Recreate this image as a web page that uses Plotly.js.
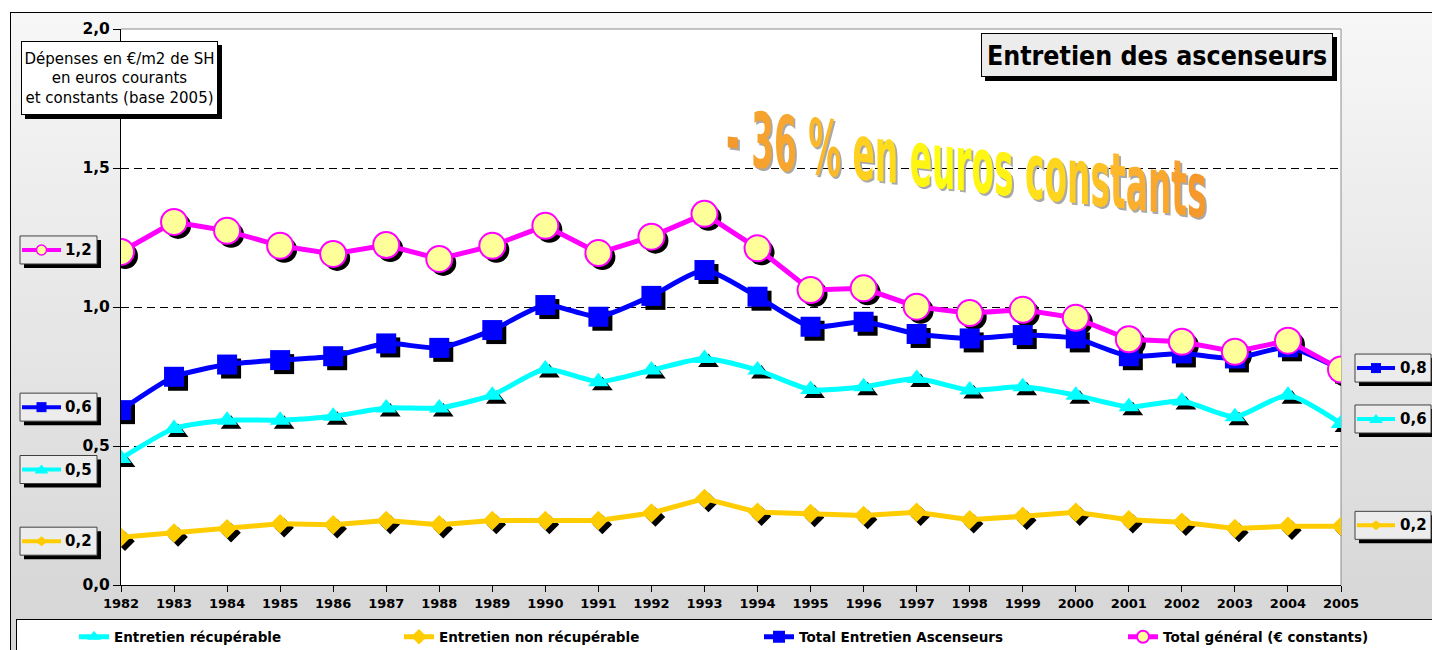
<!DOCTYPE html>
<html><head><meta charset="utf-8">
<script src="https://cdn.plot.ly/plotly-3.0.1.min.js"></script>
<style>
html,body{margin:0;padding:0;background:#fff;width:1432px;height:650px;overflow:hidden}
#frame{position:absolute;left:10px;top:12px;width:1440px;height:660px;border:1px solid #000;box-sizing:border-box;background:linear-gradient(to bottom,#f7f7f7 0%,#d6d6d6 94%)}
#legbox{position:absolute;left:16px;top:619px;width:1440px;height:60px;border:1px solid #000;background:#fff;box-sizing:border-box}
#chart{position:absolute;left:0;top:0;width:1432px;height:650px}
</style></head><body>
<div id="frame"></div><div id="legbox"></div><div id="chart"></div>
<script>
// ---- data ----
const years = ['1982','1983','1984','1985','1986','1987','1988','1989','1990','1991','1992','1993',
               '1994','1995','1996','1997','1998','1999','2000','2001','2002','2003','2004','2005'];
const recup    = [0.455,0.563,0.593,0.593,0.607,0.637,0.637,0.683,0.777,0.731,0.773,0.815,
                  0.773,0.703,0.713,0.743,0.701,0.713,0.683,0.641,0.662,0.605,0.683,0.581];
const nonRecup = [0.172,0.187,0.202,0.220,0.217,0.232,0.217,0.232,0.232,0.232,0.259,0.311,
                  0.262,0.257,0.250,0.262,0.235,0.247,0.262,0.235,0.226,0.203,0.211,0.211];
const totalAsc = [0.629,0.749,0.793,0.809,0.823,0.869,0.853,0.917,1.007,0.965,1.040,1.133,
                  1.037,0.929,0.947,0.903,0.887,0.899,0.887,0.823,0.833,0.815,0.855,0.775];
const totalGen = [1.198,1.306,1.274,1.220,1.191,1.223,1.173,1.220,1.292,1.194,1.253,1.335,
                  1.211,1.061,1.067,1.001,0.978,0.990,0.961,0.884,0.875,0.839,0.879,0.775];
const seriesNames = ['Entretien récupérable','Entretien non récupérable','Total Entretien Ascenseurs','Total général (€ constants)'];
const yTicks = [0, 0.5, 1, 1.5, 2];
const chartTitle = 'Entretien des ascenseurs';
const yTitleLines = ['Dépenses en €/m2 de SH','en euros courants','et constants (base 2005)'];
const callout = '- 36 % en euros constants';

// ---- geometry ----
const W = 1432, H = 650, ML = 121, MR = 91, MT = 29, MB = 65;
const PW = W - ML - MR, PH = H - MT - MB;
const px2x = px => (px - ML) / PW;
const py2y = py => (H - MB - py) / PH;
const SH = 4;
const nCat = years.length - 1;
const dxU = SH / (PW / nCat), dyU = SH / (PH / 2);

const FONT = 'DejaVu Sans';
const COND = 'DejaVu Sans Condensed, DejaVu Sans';

const styles = [
  {color:'#00ffff', symbol:'triangle-up', size:18, shape:'spline', mfill:'#00ffff', mline:'#00ffff', mw:0},
  {color:'#ffcc00', symbol:'diamond', size:15, shape:'linear', mfill:'#ffcc00', mline:'#ffcc00', mw:0},
  {color:'#0000ff', symbol:'square', size:20, shape:'spline', mfill:'#0000ff', mline:'#0000ff', mw:0},
  {color:'#ff00ff', symbol:'circle', size:26, shape:'linear', mfill:'#ffff99', mline:'#ff00ff', mw:2}
];
const series = [recup, nonRecup, totalAsc, totalGen];
const legendIds = ['legend','legend2','legend3','legend4'];

const traces = [{x:[], y:[], type:'scatter', mode:'markers', showlegend:false, hoverinfo:'skip'}];
// marker shadows (same data, drawn on an axis pair shifted by a few pixels)
series.forEach((s, i) => {
  traces.push({x: years, y: s, type:'scatter', mode:'markers', xaxis:'x2', yaxis:'y2',
    showlegend:false, hoverinfo:'skip',
    marker:{symbol: styles[i].symbol, size: styles[i].size, color:'#000', line:{width:0}}});
});
// main series
series.forEach((s, i) => {
  const st = styles[i];
  traces.push({x: years, y: s, type:'scatter', mode:'lines+markers', name: seriesNames[i],
    xaxis:'x3', yaxis:'y3', legend: legendIds[i],
    line:{color: st.color, width:5, shape: st.shape, smoothing:0.6},
    marker:{symbol: st.symbol, size: st.size, color: st.mfill, line:{color: st.mline, width: st.mw}}});
});

// ---- shapes ----
const shapes = [
  {type:'line', xref:'paper', yref:'paper', x0:0, x1:1, y0:1, y1:1, line:{color:'#8c8c8c', width:1}, layer:'above'},
  {type:'line', xref:'paper', yref:'paper', x0:1, x1:1, y0:0, y1:1, line:{color:'#8c8c8c', width:1}, layer:'below'}
];
function shadowBox(cxPx, cyPx, w, h) {
  shapes.push({type:'rect', xref:'paper', yref:'paper', xsizemode:'pixel', ysizemode:'pixel',
    xanchor: px2x(cxPx), yanchor: py2y(cyPx), x0: -w/2 + SH, x1: w/2 + SH, y0: -h/2 - SH, y1: h/2 - SH,
    fillcolor:'#000', line:{width:0}, layer:'above'});
}
shadowBox(119.5, 78, 197, 74);
shadowBox(1157, 55, 352, 44);

const annotations = [];
const fmt = v => v.toFixed(1).replace('.', ',');
function valueLabel(side, si, idx, dy) {
  const st = styles[si];
  const v = series[si][idx];
  const xa = side === 'L' ? 0 : 1;
  const bx0 = side === 'L' ? -101 : 14, bx1 = side === 'L' ? -24 : 90;
  const lx0 = side === 'L' ? -99 : 16, lx1 = side === 'L' ? -60 : 54;
  const mx = (lx0 + lx1) / 2;
  const base = {xref:'paper', yref:'y', xsizemode:'pixel', ysizemode:'pixel', xanchor: xa, yanchor: v, layer:'above'};
  shapes.push(Object.assign({}, base, {type:'rect', x0: bx0 + SH, x1: bx1 + SH, y0: dy - 14 - SH, y1: dy + 14 - SH, fillcolor:'#000', line:{width:0}}));
  shapes.push(Object.assign({}, base, {type:'rect', x0: bx0, x1: bx1, y0: dy - 14, y1: dy + 14, fillcolor:'#ececec', line:{color:'#404040', width:1}}));
  shapes.push(Object.assign({}, base, {type:'line', x0: lx0, x1: lx1, y0: dy, y1: dy, line:{color: st.color, width:4}}));
  if (st.symbol === 'circle') {
    shapes.push(Object.assign({}, base, {type:'circle', x0: mx - 5, x1: mx + 5, y0: dy - 5, y1: dy + 5, fillcolor: st.mfill, line:{color: st.mline, width:1.5}}));
  } else if (st.symbol === 'square') {
    shapes.push(Object.assign({}, base, {type:'rect', x0: mx - 5, x1: mx + 5, y0: dy - 5, y1: dy + 5, fillcolor: st.mfill, line:{width:0}}));
  } else if (st.symbol === 'triangle-up') {
    shapes.push(Object.assign({}, base, {type:'path', path:`M${mx-7},${dy-4} L${mx+7},${dy-4} L${mx},${dy+5} Z`, fillcolor: st.mfill, line:{width:0}}));
  } else {
    shapes.push(Object.assign({}, base, {type:'path', path:`M${mx-6},${dy} L${mx},${dy+5} L${mx+6},${dy} L${mx},${dy-5} Z`, fillcolor: st.mfill, line:{width:0}}));
  }
  annotations.push({xref:'paper', yref:'y', x: xa, y: v, xanchor:'left', yanchor:'middle',
    xshift: side === 'L' ? -58 : 57, yshift: dy, showarrow:false, text: fmt(v),
    font:{family: FONT, size:15, weight:'bold', color:'#000'}});
}

// box annotations
annotations.push({xref:'paper', yref:'paper', x: px2x(119.5), y: py2y(78), xanchor:'center', yanchor:'middle',
  text: yTitleLines.join('<br>'), showarrow:false, align:'center',
  font:{family: FONT, size:15, color:'#000'}, bgcolor:'#ffffff', bordercolor:'#000', borderwidth:1, borderpad:0,
  width:195, height:72});
annotations.push({xref:'paper', yref:'paper', x: px2x(1157), y: py2y(55), xanchor:'center', yanchor:'middle',
  text: chartTitle, showarrow:false,
  font:{family: COND, size:26.5, weight:'bold', color:'#000'}, bgcolor:'#ececec', bordercolor:'#000', borderwidth:1, borderpad:0,
  width:350, height:42});

// callout with colour gradient per letter
const stops = [[0,'#f39a2c'],[0.16,'#f8aa30'],[0.3,'#ffd21e'],[0.45,'#ffff10'],[0.6,'#fff015'],[0.75,'#ffcc22'],[0.88,'#fcae2e'],[1,'#f5992c']];
function hex2rgb(h){return [1,3,5].map(i=>parseInt(h.substr(i,2),16));}
function colAt(t){
  for (let i = 1; i < stops.length; i++) {
    if (t <= stops[i][0]) {
      const a = stops[i-1], b = stops[i], f = (t - a[0]) / (b[0] - a[0]);
      const ca = hex2rgb(a[1]), cb = hex2rgb(b[1]);
      return 'rgb(' + ca.map((c,k)=>Math.round(c + (cb[k]-c)*f)).join(',') + ')';
    }
  }
  return stops[stops.length-1][1];
}
const chars = Array.from(callout);
const calloutHtml = chars.map((c, i) => c === ' ' ? ' ' : `<span style="color:${colAt(i/(chars.length-1))}">${c}</span>`).join('');
const CALLOUT_INDEX = annotations.length;
annotations.push({xref:'paper', yref:'paper', x: px2x(966), y: py2y(164), xanchor:'center', yanchor:'middle',
  text: calloutHtml, showarrow:false,
  font:{family: COND, size:36.5, weight:'bold', color:'#ffcc00', shadow:'3px 1.5px 0px #a8a8a8'}});

// value labels
valueLabel('L', 3, 0, 2);
valueLabel('L', 2, 0, 3);
valueLabel('L', 0, 0, -11);
valueLabel('L', 1, 0, -4);
valueLabel('R', 2, nCat, 1.5);
valueLabel('R', 0, nCat, 4.5);
valueLabel('R', 1, nCat, 1);

// legends
const legY = py2y(637);
const legSym = [84, 409, 769, 1133];
const legendBase = {orientation:'h', xanchor:'left', yanchor:'middle', y: legY, bgcolor:'rgba(0,0,0,0)', borderwidth:0,
  itemsizing:'constant', font:{family: FONT, size:13.5, weight:'bold', color:'#000'}};

const catAxis = {type:'category', categoryorder:'array', categoryarray: years, fixedrange:true};
const layout = {
  width: W, height: H,
  margin:{l: ML, r: MR, t: MT, b: MB, pad:0, autoexpand:false},
  paper_bgcolor:'rgba(0,0,0,0)', plot_bgcolor:'#ffffff',
  separators:', ',
  showlegend:true,
  xaxis: Object.assign({}, catAxis, {range:[0, nCat], showline:true, linecolor:'#000', linewidth:1, ticks:'outside', ticklen:6,
    tickcolor:'#000', tickfont:{family: FONT, size:13, weight:'bold', color:'#000'}, showgrid:false, zeroline:false, automargin:false}),
  xaxis2: Object.assign({}, catAxis, {overlaying:'x', range:[-dxU, nCat - dxU], visible:false}),
  xaxis3: Object.assign({}, catAxis, {overlaying:'x', range:[0, nCat], visible:false}),
  yaxis: {range:[0, 2], tickvals: yTicks, tickformat:'.1f', showgrid:true, gridcolor:'#000', griddash:'8px,5px', gridwidth:1,
    showline:true, linecolor:'#000', linewidth:1, ticks:'outside', ticklen:7, tickcolor:'#000', automargin:false,
    tickfont:{family: FONT, size:15.5, weight:'bold', color:'#000'}, zeroline:false, fixedrange:true},
  yaxis2: {overlaying:'y', range:[dyU, 2 + dyU], visible:false, fixedrange:true},
  yaxis3: {overlaying:'y', range:[0, 2], visible:false, fixedrange:true},
  shapes: shapes,
  annotations: annotations
};
legendIds.forEach((id, i) => { layout[id] = Object.assign({}, legendBase, {x: px2x(legSym[i] - 10)}); });

Plotly.newPlot('chart', traces, layout, {displayModeBar:false, staticPlot:true}).then(gd => {
  const g = gd.querySelector('.annotation[data-index="' + CALLOUT_INDEX + '"]');
  if (!g) return;
  const t = g.querySelector('text.annotation-text');
  if (!t) return;
  const bb = t.getBBox();
  const cx = bb.x + bb.width / 2, cy = bb.y + bb.height / 2, k = 2.1, skew = 6.4;
  const prev = t.getAttribute('transform') || '';
  t.setAttribute('transform', prev + ` translate(${cx},${cy}) skewY(${skew}) scale(1,${k}) translate(${-cx},${-cy})`);
});
</script></body></html>
